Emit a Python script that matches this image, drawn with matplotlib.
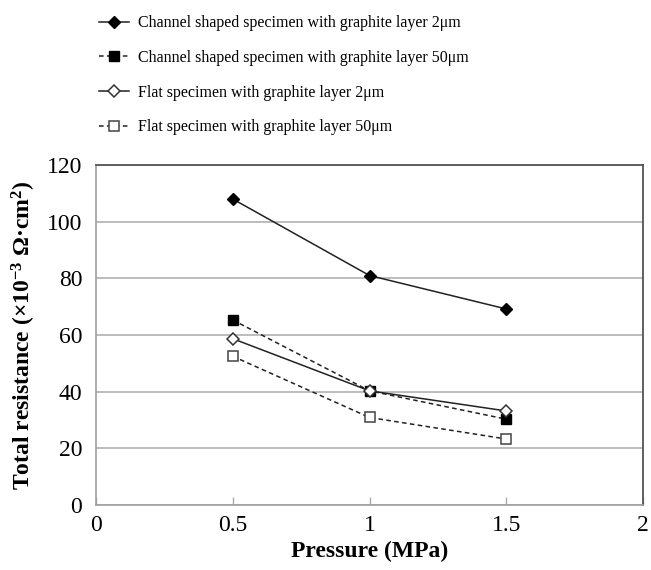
import matplotlib
matplotlib.use("Agg")
import matplotlib.pyplot as plt

plt.rcParams['font.family'] = ['Liberation Serif', 'DejaVu Serif']
plt.rcParams['mathtext.fontset'] = 'custom'
plt.rcParams['mathtext.rm'] = 'Liberation Serif:bold'
plt.rcParams['mathtext.default'] = 'rm'

pressure = [0.5, 1.0, 1.5]
channel_2um = [108, 81, 69.2]
channel_50um = [65.3, 40.3, 30.3]
flat_2um = [58.7, 40.3, 33.2]
flat_50um = [52.5, 30.9, 23.3]

labels = [
    "Channel shaped specimen with graphite layer 2μm",
    "Channel shaped specimen with graphite layer 50μm",
    "Flat specimen with graphite layer 2μm",
    "Flat specimen with graphite layer 50μm",
]
x_ticks = [0, 0.5, 1, 1.5, 2]
x_tick_labels = ["0", "0.5", "1", "1.5", "2"]
y_ticks = [0, 20, 40, 60, 80, 100, 120]

fig = plt.figure(figsize=(6.51, 5.70), dpi=100)
ax = fig.add_axes([0.1475, 0.114, 0.8402, 0.5965])

lc = '#222222'
ax.plot(pressure, channel_2um, color=lc, lw=1.1, ls='-', marker='D', ms=6.5,
        mfc='black', mec='black', label=labels[0], zorder=3)
ax.plot(pressure, channel_50um, color=lc, lw=1.1, ls=(0, (3, 2.2)), marker='s', ms=7.5,
        mfc='black', mec='black', label=labels[1], zorder=3)
ax.plot(pressure, flat_2um, color=lc, lw=1.1, ls='-', marker='D', ms=6.5,
        mfc='white', mec='#333333', mew=1.1, label=labels[2], zorder=4)
ax.plot(pressure, flat_50um, color=lc, lw=1.1, ls=(0, (3, 2.2)), marker='s', ms=7.5,
        mfc='white', mec='#444444', mew=1.1, label=labels[3], zorder=4)

ax.set_xlim(0, 2)
ax.set_ylim(0, 120)
ax.set_xticks(x_ticks)
ax.set_xticklabels(x_tick_labels)
ax.set_yticks(y_ticks)
ax.yaxis.grid(True, color='#b0b0b0', lw=1.2)
ax.set_axisbelow(True)
ax.tick_params(axis='y', length=0, pad=10, labelsize=17)
ax.tick_params(axis='x', direction='in', length=6, color='#aaaaaa', width=1, pad=7, labelsize=17)
for s in ['left', 'bottom']:
    ax.spines[s].set_color('#a0a0a0')
    ax.spines[s].set_linewidth(1.2)
for s in ['top', 'right']:
    ax.spines[s].set_color('#555555')
    ax.spines[s].set_linewidth(1.3)

ax.set_xlabel("Pressure (MPa)", fontsize=17, fontweight='bold', labelpad=4)
ax.set_ylabel("Total resistance (×10$^{-3}$ Ω·cm$^{2}$)", fontsize=17, fontweight='bold', labelpad=6)

fig.legend(loc='upper left', bbox_to_anchor=(0.152, 0.973), frameon=False, fontsize=11.5,
           handlelength=1.9, handletextpad=0.55, labelspacing=1.17, borderpad=0, borderaxespad=0)

fig.savefig("out.png", dpi=100)
